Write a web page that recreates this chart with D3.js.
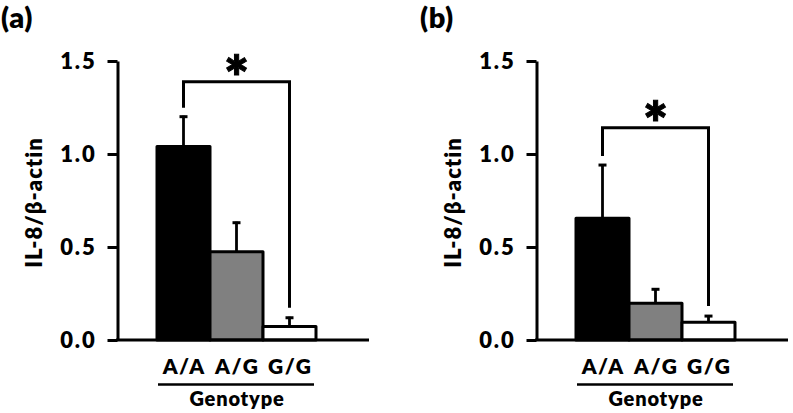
<!DOCTYPE html>
<html>
<head>
<meta charset="utf-8">
<script src="https://cdn.jsdelivr.net/npm/d3@7"></script>
<style>
  html, body { margin: 0; padding: 0; background: #fff; }
  svg { display: block; }
  text { font-family: Lato, "Open Sans", sans-serif; font-weight: 800; fill: #000; }
</style>
</head>
<body>
<svg id="chart" width="793" height="413"></svg>
<script>
const categories = ["A/A", "A/G", "G/G"];
const barColors = ["#000000", "#808080", "#ffffff"];
const yTicks = [0, 0.5, 1.0, 1.5];
const panelLabels = ["(a)", "(b)"];
const valuesA = [1.04, 0.475, 0.072];
const errorsA = [0.166, 0.161, 0.053];
const valuesB = [0.654, 0.197, 0.095];
const errorsB = [0.292, 0.081, 0.039];
const bracketLevels = [1.389, 1.141];
const yLabel = "IL-8/β-actin";
const xLabel = "Genotype";

const svg = d3.select("#chart");
const panels = [
  { label: panelLabels[0], values: valuesA, errors: errorsA, bracket: bracketLevels[0], ox: 0 },
  { label: panelLabels[1], values: valuesB, errors: errorsB, bracket: bracketLevels[1], ox: 419 }
];

const y = d3.scaleLinear().domain([0, 1.5]).range([340, 61]);

panels.forEach(p => {
  const g = svg.append("g").attr("transform", `translate(${p.ox},0)`);
  const axisX = 117.5;
  const x = d3.scaleBand().domain(categories).range([axisX + 39.5, axisX + 198.5]).paddingInner(0).paddingOuter(0);

  // panel label
  g.append("text").attr("x", 1).attr("y", 28).attr("font-size", 29)
    .attr("letter-spacing", 0.5).text(p.label);

  // bars
  g.selectAll("rect.bar").data(categories).enter().append("rect")
    .attr("x", d => x(d))
    .attr("width", x.bandwidth())
    .attr("y", (d, i) => y(p.values[i]))
    .attr("height", (d, i) => y(0) - y(p.values[i]))
    .attr("fill", (d, i) => barColors[i])
    .attr("stroke", "#000").attr("stroke-width", 3).attr("stroke-linejoin", "round");

  // error bars (upper only)
  categories.forEach((c, i) => {
    const cx = x(c) + x.bandwidth() / 2;
    const top = y(p.values[i] + p.errors[i]);
    g.append("line").attr("x1", cx).attr("x2", cx)
      .attr("y1", y(p.values[i])).attr("y2", top)
      .attr("stroke", "#000").attr("stroke-width", 2.8);
    g.append("line").attr("x1", cx - 4).attr("x2", cx + 4)
      .attr("y1", top + 1).attr("y2", top + 1)
      .attr("stroke", "#000").attr("stroke-width", 3);
  });

  // y axis
  const yAxis = d3.axisLeft(y).tickValues(yTicks).tickFormat(d3.format(".1f"))
    .tickSize(10).tickSizeOuter(0).tickPadding(11);
  const ay = g.append("g").attr("transform", `translate(${axisX},0)`).call(yAxis);
  ay.select(".domain").attr("stroke", "#000").attr("stroke-width", 3);
  ay.selectAll(".tick line").attr("stroke", "#000").attr("stroke-width", 3);
  ay.selectAll(".tick text").attr("font-size", 22).attr("letter-spacing", 1.8)
    .attr("font-family", "Lato, sans-serif").attr("font-weight", 800).attr("fill", "#000");

  // x axis baseline
  g.append("line").attr("x1", axisX - 1.5).attr("x2", axisX + 251.5).attr("y1", y(0)).attr("y2", y(0))
    .attr("stroke", "#000").attr("stroke-width", 3);

  // category labels
  g.selectAll("text.cat").data(categories).enter().append("text")
    .attr("class", "cat")
    .attr("x", d => x(d) + x.bandwidth() / 2 + 0.75)
    .attr("y", 374).attr("text-anchor", "middle").attr("font-size", 21)
    .attr("letter-spacing", 1.5)
    .text(d => d);

  // genotype underline and label
  g.append("line").attr("x1", x.range()[0] + 1).attr("x2", x.range()[1] - 2).attr("y1", 384.5).attr("y2", 384.5)
    .attr("stroke", "#000").attr("stroke-width", 2.5);
  g.append("text").attr("x", (x.range()[0] + x.range()[1]) / 2 + 0.5).attr("y", 406)
    .attr("text-anchor", "middle").attr("font-size", 20).attr("letter-spacing", 0.8).text(xLabel);

  // y label
  g.append("text").attr("transform", `translate(42,202.5) rotate(-90)`)
    .attr("text-anchor", "middle").attr("font-size", 22).attr("letter-spacing", 1).text(yLabel);

  // significance bracket
  const lx = x(categories[0]) + x.bandwidth() / 2;
  const rx = x(categories[2]) + x.bandwidth() / 2;
  const by = y(p.bracket);
  const lBottom = y(p.values[0] + p.errors[0]) - 8;
  const rBottom = y(p.values[2] + p.errors[2]) - 9;
  g.append("path")
    .attr("d", `M${lx},${lBottom}V${by}H${rx}V${rBottom}`)
    .attr("fill", "none").attr("stroke", "#000").attr("stroke-width", 3);
  g.append("text").attr("x", (lx + rx) / 2).attr("y", by + 17)
    .attr("text-anchor", "middle").attr("font-size", 58)
    .attr("stroke", "#000").attr("stroke-width", 1).text("*");
});
</script>
</body>
</html>
